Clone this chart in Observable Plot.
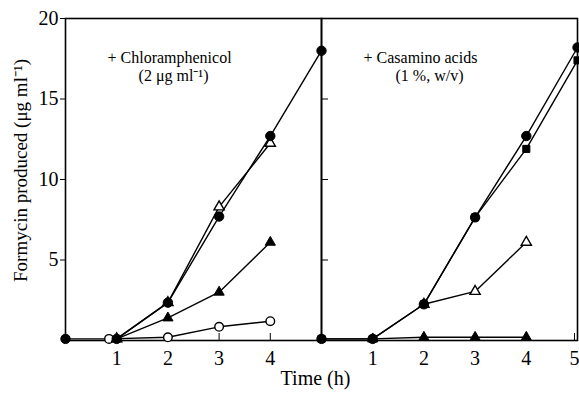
<!DOCTYPE html>
<html>
<head>
<meta charset="utf-8">
<script src="https://cdn.jsdelivr.net/npm/d3@7"></script>
<script src="https://cdn.jsdelivr.net/npm/@observablehq/plot@0.6"></script>
<style>
  body { margin: 0; background: #fff; }
</style>
</head>
<body>
<div id="chart"></div>
<script>
// Two panels: formycin production with chloramphenicol / with casamino acids
const panels = ["+ Chloramphenicol", "+ Casamino acids"];
const panelNotes = ["(2 μg ml⁻¹)", "(1 %, w/v)"];
const yTicks = [5, 10, 15, 20];
const yInnerTicks = [5, 10, 15];
const xTicks = [1, 2, 3, 4];
const xTicksLast = [5];
const yLabel = "Formycin produced (μg ml⁻¹)";
const xLabel = "Time (h)";

// + Chloramphenicol panel (time in h, formycin in μg/ml)
const chlFilledCircleT = [0, 1, 2, 3, 4, 5];
const chlFilledCircleV = [0.1, 0.1, 2.35, 7.7, 12.7, 18.0];
const chlOpenTriangleT = [1, 2, 3, 4];
const chlOpenTriangleV = [0.1, 2.35, 8.3, 12.25];
const chlFilledTriangleT = [1, 2, 3, 4];
const chlFilledTriangleV = [0.1, 1.4, 3.0, 6.1];
const chlOpenCircleT = [0.85, 2, 3, 4];
const chlOpenCircleV = [0.1, 0.2, 0.85, 1.2];

// + Casamino acids panel
const casFilledCircleT = [0, 1, 2, 3, 4, 5];
const casFilledCircleV = [0.1, 0.1, 2.25, 7.65, 12.7, 18.2];
const casFilledSquareT = [0, 1, 2, 3, 4, 5];
const casFilledSquareV = [0.1, 0.1, 2.25, 7.65, 11.9, 17.4];
const casOpenTriangleT = [2, 3, 4];
const casOpenTriangleV = [2.25, 3.05, 6.1];
const casFilledTriangleT = [1, 2, 3, 4];
const casFilledTriangleV = [0.1, 0.2, 0.2, 0.2];

function series(panel, marker, id, ts, vs) {
  return ts.map((t, i) => ({panel, marker, id, t, v: vs[i]}));
}

const rows = [
  ...series(panels[0], "openCircle", "c1", chlOpenCircleT, chlOpenCircleV),
  ...series(panels[0], "openTriangle", "c2", chlOpenTriangleT, chlOpenTriangleV),
  ...series(panels[0], "filledTriangle", "c3", chlFilledTriangleT, chlFilledTriangleV),
  ...series(panels[0], "filledCircle", "c4", chlFilledCircleT, chlFilledCircleV),
  ...series(panels[1], "openTriangle", "a1", casOpenTriangleT, casOpenTriangleV),
  ...series(panels[1], "filledTriangle", "a2", casFilledTriangleT, casFilledTriangleV),
  ...series(panels[1], "filledSquare", "a3", casFilledSquareT, casFilledSquareV),
  ...series(panels[1], "filledCircle", "a4", casFilledCircleT, casFilledCircleV)
];

const notes = panels.map((p, i) => ({panel: p, title: p, note: panelNotes[i]}));
const of = (m) => rows.filter((d) => d.marker === m);

const chart = Plot.plot({
  width: 579,
  height: 393,
  marginLeft: 65,
  marginRight: 2,
  marginTop: 18,
  marginBottom: 53,
  style: {fontFamily: "'Liberation Serif', 'Times New Roman', serif", fontSize: "20px", color: "black", background: "white"},
  fx: {domain: panels, padding: 0, axis: null},
  x: {domain: [0, 5]},
  y: {domain: [0, 20]},
  marks: [
    Plot.frame({stroke: "black", strokeWidth: 1.6}),
    Plot.axisY(yTicks, {anchor: "left", tickSize: 5, tickPadding: 2, label: null, fontSize: 20}),
    Plot.axisY(yInnerTicks, {anchor: "left", facetAnchor: "right", tickSize: -7, tickFormat: () => "", label: null}),
    Plot.axisX(xTicks, {anchor: "bottom", tickSize: -7, tickPadding: 17, label: null, fontSize: 20}),
    Plot.axisX(xTicksLast, {anchor: "bottom", facetAnchor: "right", tickSize: -7, tickPadding: 17, label: null, fontSize: 20, dx: -3}),
    Plot.line(rows, {fx: "panel", x: "t", y: "v", z: "id", stroke: "black", strokeWidth: 1.4}),
    Plot.dot(of("openCircle"), {fx: "panel", x: "t", y: "v", symbol: "circle", r: 4.3, fill: "white", stroke: "black", strokeWidth: 1.4}),
    Plot.dot(of("openTriangle"), {fx: "panel", x: "t", y: "v", symbol: "triangle", r: 3.8, fill: "white", stroke: "black", strokeWidth: 1.4}),
    Plot.dot(of("filledTriangle"), {fx: "panel", x: "t", y: "v", symbol: "triangle", r: 3.8, fill: "black", stroke: "black", strokeWidth: 1}),
    Plot.dot(of("filledSquare"), {fx: "panel", x: "t", y: "v", symbol: "square", r: 4, fill: "black", stroke: "black", strokeWidth: 1}),
    Plot.dot(of("filledCircle"), {fx: "panel", x: "t", y: "v", symbol: "circle", r: 4.7, fill: "black", stroke: "black", strokeWidth: 1}),
    Plot.text(notes, {fx: "panel", text: "title", frameAnchor: "top-left", dx: 42, dy: 33, textAnchor: "start", fontSize: 16}),
    Plot.text(notes, {fx: "panel", text: "note", frameAnchor: "top-left", dx: 108, dy: 51, textAnchor: "middle", fontSize: 16}),
    Plot.text([panels[0]], {fx: (d) => d, text: () => yLabel, frameAnchor: "left", textAnchor: "middle", rotate: -90, dx: -45, dy: -9, fontSize: 19, fill: "black"}),
    Plot.text([panels[1]], {fx: (d) => d, text: () => xLabel, frameAnchor: "bottom-left", textAnchor: "middle", dx: -6, dy: 44, fontSize: 20, fill: "black"})
  ]
});

document.getElementById("chart").append(chart);
</script>
</body>
</html>
